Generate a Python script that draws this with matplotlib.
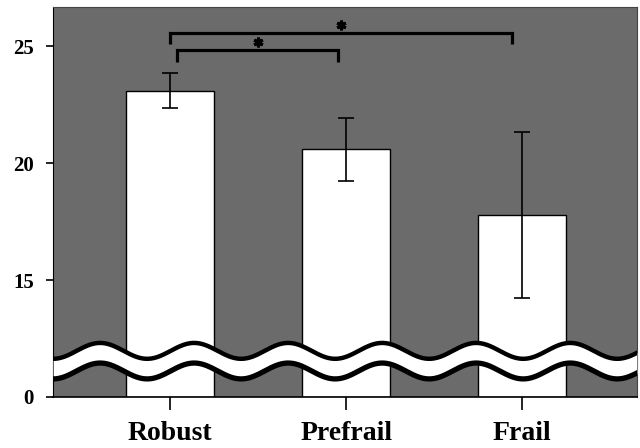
import numpy as np
import matplotlib.pyplot as plt

# data
groups = ["Robust", "Prefrail", "Frail"]
means = [23.1, 20.6, 17.8]
errors = [0.75, 1.35, 3.55]

ytick_values = [10, 15, 20, 25]
ytick_labels = ["0", "15", "20", "25"]

# significance brackets: (x_left, x_right, y_top, y_drop)
brackets = [(0.0, 1.94, 25.56, 25.08), (0.04, 0.955, 24.83, 24.32)]
stars_y = [25.92, 25.16]

BASE = 10  # axis is broken, "0" sits where 10 would be
GRAY = "#6b6b6b"

plt.rcParams['font.family'] = ['Liberation Serif', 'DejaVu Serif']
plt.rcParams['font.weight'] = 'bold'

fig = plt.figure(figsize=(6.4, 4.48), dpi=100)
ax = fig.add_axes([0.083, 0.114, 0.912, 0.870])
ax.set_facecolor(GRAY)

x = np.arange(len(groups))
heights = [m - BASE for m in means]
ax.bar(x, heights, width=0.5, bottom=BASE, color="white", edgecolor="black",
       linewidth=1.0, zorder=2)
ax.errorbar(x, means, yerr=errors, fmt="none", ecolor="black", elinewidth=1.2,
            capsize=6, capthick=1.2, zorder=3)

# brackets and asterisks
for (xl, xr, yt, yd), sy in zip(brackets, stars_y):
    ax.plot([xl, xl, xr, xr], [yd, yt, yt, yd], color="black", lw=2.3,
            solid_capstyle="butt", solid_joinstyle="miter", zorder=4)
    ax.plot([(xl + xr) / 2], [sy], marker=(6, 2, 0), color="black",
            ms=7, mew=2.2, zorder=4)

ax.set_xlim(-0.665, 2.65)
ax.set_ylim(BASE, 26.67)

# wavy axis break
xs = np.linspace(-0.665, 2.65, 600)
period = 0.534
phase = -0.398
amp = 0.34
upper = 11.97 + amp * np.cos(2 * np.pi * (xs - phase) / period)
lower = 11.11 + amp * np.cos(2 * np.pi * (xs - phase) / period)
ax.fill_between(xs, lower, upper, color="white", zorder=5, lw=0)
ax.plot(xs, upper, color="black", lw=3.2, zorder=6)
ax.plot(xs, lower, color="black", lw=3.8, zorder=6)

ax.set_xticks(x)
ax.set_xticklabels(groups, fontsize=20, fontweight="bold")
ax.set_yticks(ytick_values)
ax.set_yticklabels(ytick_labels, fontsize=15, fontweight="bold")
ax.tick_params(axis="x", length=9, width=1.2, pad=8)
ax.tick_params(axis="y", length=5, width=1.2, pad=9)

for side in ["top", "right"]:
    ax.spines[side].set_color("#444444")
    ax.spines[side].set_linewidth(0.8)
ax.spines["left"].set_linewidth(0.8)
ax.spines["bottom"].set_linewidth(1.2)

fig.savefig("out.png", dpi=100)
